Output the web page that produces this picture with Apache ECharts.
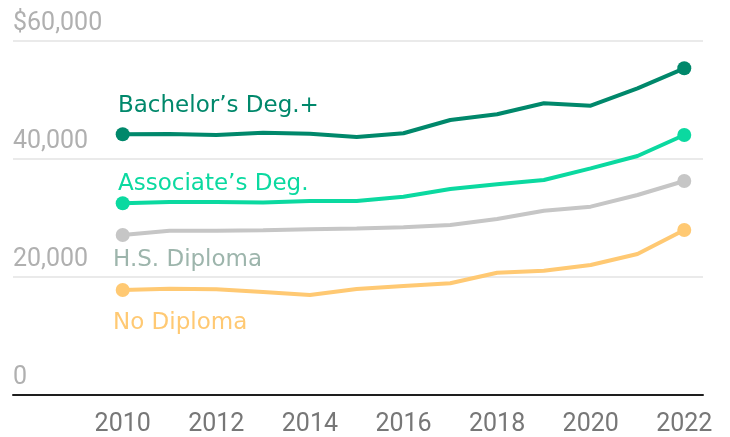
<!DOCTYPE html>
<html>
<head>
<meta charset="utf-8">
<script src="https://cdn.jsdelivr.net/npm/echarts@6/dist/echarts.min.js"></script>
<style>
  html, body { margin: 0; padding: 0; background: #fff; }
  #chart { width: 730px; height: 437px; }
</style>
</head>
<body>
<div id="chart"></div>
<script>
  // median earnings by education level
  var years = [2010, 2011, 2012, 2013, 2014, 2015, 2016, 2017, 2018, 2019, 2020, 2021, 2022];
  var bachelors = [44190, 44240, 44070, 44460, 44290, 43730, 44360, 46610, 47580, 49440, 49030, 51980, 55370];
  var associates = [32490, 32710, 32710, 32630, 32880, 32880, 33610, 34920, 35710, 36440, 38420, 40510, 44070];
  var hsDiploma = [27120, 27850, 27850, 27910, 28080, 28220, 28420, 28810, 29830, 31240, 31920, 33900, 36270];
  var noDiploma = [17800, 18020, 17910, 17460, 16950, 17970, 18480, 18930, 20730, 21070, 22030, 23900, 27970];
  var xTicks = [2010, 2012, 2014, 2016, 2018, 2020, 2022];
  var yTicks = [0, 20000, 40000, 60000];

  function pairs(arr) {
    return years.map(function (y, i) { return [y, arr[i]] })
  }

  function makeSeries(name, arr, color) {
    var last = arr.length - 1
    return {
      name: name,
      type: 'line',
      data: pairs(arr),
      symbol: 'circle',
      showAllSymbol: true,
      symbolSize: function (val, params) {
        return (params.dataIndex === 0 || params.dataIndex === last) ? 14 : 0
      },
      lineStyle: { color: color, width: 4 },
      itemStyle: { color: color },
      emphasis: { disabled: true },
      z: 3
    }
  }

  var labelFont = '"DejaVu Sans"'
  var chart = echarts.init(document.getElementById('chart'))
  chart.setOption({
    animation: false,
    grid: { left: 13, right: 27, top: 41, bottom: 42 },
    xAxis: {
      type: 'value',
      min: 2007.656,
      max: 2022.4,
      splitLine: { show: false },
      axisTick: { show: false },
      axisLine: { show: true, onZero: false, lineStyle: { color: '#1e1e1e', width: 2 } },
      axisLabel: {
        customValues: xTicks,
        color: '#777',
        fontFamily: 'Roboto',
        fontSize: 25,
        margin: 17,
        formatter: function (v) { return String(v) }
      }
    },
    yAxis: {
      type: 'value',
      min: 0,
      max: 60000,
      interval: 20000,
      axisLine: { show: false },
      axisTick: { show: false },
      splitLine: { lineStyle: { color: '#e3e3e3', width: 1.5 } },
      axisLabel: {
        inside: true,
        margin: 0,
        align: 'left',
        verticalAlign: 'bottom',
        padding: [0, 0, 5, 0],
        color: '#b0b0b0',
        fontFamily: 'Roboto',
        fontSize: 25,
        formatter: function (v) {
          var s = v.toLocaleString('en-US')
          return v === yTicks[yTicks.length - 1] ? '$' + s : s
        }
      }
    },
    series: [
      makeSeries('No Diploma', noDiploma, '#ffc973'),
      makeSeries('H.S. Diploma', hsDiploma, '#c6c6c6'),
      makeSeries("Associate's Deg.", associates, '#0bd9a0'),
      makeSeries("Bachelor's Deg.+", bachelors, '#00886b')
    ],
    graphic: [
      { type: 'text', left: 118, top: 95, style: { text: 'Bachelor\u2019s Deg.+', fill: '#00886b', font: '23px ' + labelFont } },
      { type: 'text', left: 118, top: 173, style: { text: 'Associate\u2019s Deg.', fill: '#0bd9a0', font: '23px ' + labelFont } },
      { type: 'text', left: 113, top: 249, style: { text: 'H.S. Diploma', fill: '#9db5ac', font: '23px ' + labelFont } },
      { type: 'text', left: 113, top: 312, style: { text: 'No Diploma', fill: '#ffc973', font: '23px ' + labelFont } }
    ]
  })
</script>
</body>
</html>
